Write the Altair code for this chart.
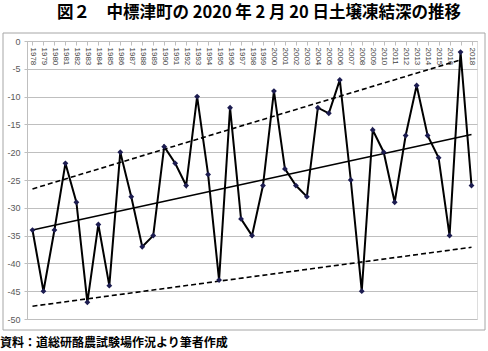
import altair as alt
import pandas as pd

# ---- data ----
years = [str(y) for y in range(1978, 2019)]
depth = [-34, -45, -34, -22, -29, -47, -33, -44, -20, -28,
         -37, -35, -19, -22, -26, -10, -24, -43, -12, -32,
         -35, -26, -9, -23, -26, -28, -12, -13, -7, -25,
         -45, -16, -20, -29, -17, -8, -17, -21, -35, -2, -26]

trend_names = ["mid", "mid"]
trend_years = ["1978", "2018"]
trend_vals = [-34.0, -16.8]

band_names = ["upper", "upper", "lower", "lower"]
band_years = ["1978", "2017", "1978", "2018"]
band_vals = [-26.6, -3.4, -47.7, -37.1]

y_ticks = list(range(-50, 1, 5))

title_text = "図２　中標津町の 2020 年 2 月 20 日土壌凍結深の推移"
note_text = "資料：道総研酪農試験場作況より筆者作成"

W, H = 450, 278
FONT = "Noto Sans CJK JP"

df = pd.DataFrame({"year": years, "depth": depth})
trend = pd.DataFrame({"name": trend_names, "year": trend_years, "v": trend_vals})
band = pd.DataFrame({"name": band_names, "year": band_years, "v": band_vals})

xscale = alt.Scale(type="point", padding=0.5, domain=years)
yscale = alt.Scale(domain=[-50, 0], nice=False, zero=False)

x_axis = alt.Axis(orient="bottom", offset=-H, labelAngle=90, labelFontSize=8,
                  labelColor="#404040", labelFont="Liberation Sans",
                  domainColor="#bfbfbf", tickColor="#bfbfbf", tickSize=4,
                  labelPadding=2, labelOverlap=False, grid=False, title=None,
                  labelExpr="datum.value == '2017' ? '' : datum.value")
y_axis = alt.Axis(values=y_ticks, grid=True, gridColor="#bfbfbf", gridWidth=1,
                  domainColor="#bfbfbf", tickColor="#bfbfbf", tickSize=3,
                  labelFontSize=9, labelColor="#595959", labelFont="Liberation Sans",
                  labelOverlap=False, labelExpr="'' + datum.value", title=None,
                  labelPadding=4)

X = lambda: alt.X("year:O", scale=xscale, axis=x_axis, sort=years)

def Y(f):
    return alt.Y(f, scale=yscale, axis=y_axis)

base = alt.Chart(df)

line = base.mark_line(color="black", strokeWidth=2).encode(x=X(), y=Y("depth:Q"))
pts = base.mark_point(shape="diamond", filled=True, size=34, color="#1c1c50", opacity=1).encode(
    x=X(), y=Y("depth:Q"))
trend_line = alt.Chart(trend).mark_line(color="black", strokeWidth=1.6).encode(
    x=X(), y=Y("v:Q"), detail="name:N")
band_lines = alt.Chart(band).mark_line(color="black", strokeWidth=1.6, strokeDash=[5, 3]).encode(
    x=X(), y=Y("v:Q"), detail="name:N")

frame = alt.Chart(pd.DataFrame({"a": [0]})).mark_rect(fill=None, stroke="#a6a6a6", strokeWidth=1).encode(
    x=alt.value(-24), x2=alt.value(458), y=alt.value(-8), y2=alt.value(289)
)
title = alt.Chart(pd.DataFrame({"t": [title_text]})).mark_text(
    font=FONT, fontSize=16.5, fontWeight="bold", align="center", baseline="middle", color="black"
).encode(text="t:N", x=alt.value(232), y=alt.value(-28))
note = alt.Chart(pd.DataFrame({"t": [note_text]})).mark_text(
    font=FONT, fontSize=12, fontWeight="bold", align="left", baseline="middle", color="black"
).encode(text="t:N", x=alt.value(-27), y=alt.value(302))

chart = alt.layer(frame, trend_line, band_lines, line, pts, title, note).properties(
    width=W, height=H,
    autosize=alt.AutoSizeParams(type="none"),
    padding={"left": 27, "top": 41, "right": 11, "bottom": 32},
).configure_view(stroke=None).configure(background="white")

chart.save("out.html", embed_options={"renderer": "svg", "actions": False})
